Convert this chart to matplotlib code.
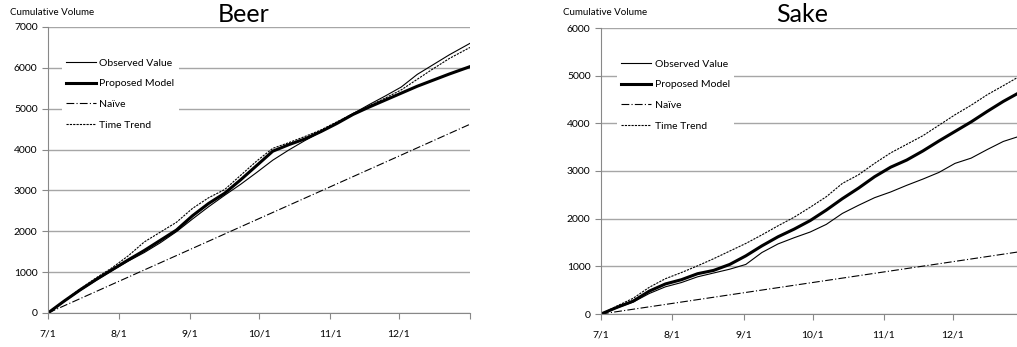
import numpy as np
import matplotlib
matplotlib.use('Agg')
import matplotlib.pyplot as plt

plt.rcParams['font.family'] = ['Lato', 'DejaVu Sans']

# Días desde el 1 de julio (muestras semanales)
dias = [0, 7, 14, 21, 28, 35, 42, 49, 56, 63, 70, 77, 84, 91, 98, 105, 112,
        119, 126, 133, 140, 147, 154, 161, 168, 175, 184]
dias_mes = [0, 31, 62, 92, 123, 153, 184]
etiquetas_mes = ['7/1', '8/1', '9/1', '10/1', '11/1', '12/1', '']

# Beer
beer_observado = [0, 280, 550, 800, 1040, 1270, 1480, 1720, 1990, 2300, 2600, 2880, 3150,
                  3440, 3740, 3990, 4220, 4430, 4660, 4880, 5100, 5310, 5530, 5840, 6080,
                  6320, 6600]
beer_modelo = [0, 290, 565, 820, 1060, 1300, 1530, 1780, 2030, 2380, 2680, 2930, 3260,
               3610, 3960, 4120, 4260, 4440, 4640, 4860, 5040, 5210, 5380, 5550, 5700,
               5850, 6030]
beer_tendencia = [0, 300, 590, 860, 1110, 1400, 1740, 1980, 2220, 2560, 2820, 3020, 3370,
                  3720, 4030, 4170, 4320, 4480, 4680, 4880, 5070, 5260, 5460, 5720, 5980,
                  6230, 6500]
beer_naive = [0, 778, 1556, 2310, 3087, 3840, 4620]

# Sake
sake_observado = [0, 130, 250, 430, 570, 660, 780, 860, 940, 1040, 1290, 1470, 1600,
                  1720, 1880, 2110, 2280, 2440, 2560, 2700, 2830, 2970, 3160, 3270, 3450,
                  3620, 3760]
sake_modelo = [0, 140, 270, 480, 630, 720, 845, 915, 1040, 1220, 1430, 1620, 1780,
               1960, 2180, 2420, 2640, 2880, 3080, 3230, 3420, 3630, 3830, 4030, 4250,
               4460, 4700]
sake_tendencia = [0, 170, 330, 560, 740, 870, 1010, 1160, 1320, 1480, 1660, 1850, 2030,
                  2240, 2460, 2740, 2920, 3160, 3380, 3560, 3740, 3960, 4180, 4380, 4600,
                  4790, 5040]
sake_naive = [0, 222, 445, 660, 882, 1097, 1320]

W, H = 1017, 347
fig = plt.figure(figsize=(W / 100, H / 100), dpi=100)

def panel(rect, titulo, tx, obs, mod, nai, ten, ymax, leg_x):
    ax = fig.add_axes(rect)
    ax.plot(dias, obs, color='black', lw=0.8, label='Observed Value')
    ax.plot(dias, mod, color='black', lw=2.2, label='Proposed Model')
    ax.plot(dias_mes, nai, color='black', lw=0.8, dashes=(7, 2, 1, 2), label='Naïve')
    ax.plot(dias, ten, color='black', lw=0.8, dashes=(2, 1), label='Time Trend')
    ax.set_xlim(0, 184)
    ax.set_ylim(0, ymax)
    ax.set_yticks(np.arange(0, ymax + 1, 1000))
    ax.set_xticks(dias_mes)
    ax.set_xticklabels(etiquetas_mes)
    ax.grid(axis='y', color='#a6a6a6', lw=1)
    ax.set_axisbelow(True)
    for s in ['top', 'right']:
        ax.spines[s].set_visible(False)
    for s in ['left', 'bottom']:
        ax.spines[s].set_color('#888888')
    ax.tick_params(axis='both', colors='#888888', labelcolor='black', labelsize=7.5,
                   length=4, width=0.8, direction='out')
    ax.tick_params(axis='x', pad=8)
    leg = ax.legend(loc='upper left', bbox_to_anchor=(leg_x, 0.905), fontsize=7.5,
                    handlelength=2.9, handletextpad=0.3, labelspacing=1.1,
                    frameon=True, borderaxespad=0)
    leg.get_frame().set_facecolor('white')
    leg.get_frame().set_edgecolor('none')
    leg.get_frame().set_alpha(1)
    fig.text(tx, 1 - 22 / H, titulo, fontsize=18, ha='center', va='baseline')
    fig.text(rect[0] - 38 / W, 1 - 15 / H, 'Cumulative Volume', fontsize=7,
             ha='left', va='baseline')
    return ax

panel([48 / W, 34 / H, 422 / W, 286 / H], 'Beer', 244 / W,
      beer_observado, beer_modelo, beer_naive, beer_tendencia, 7000, 0.033)
panel([601 / W, 33 / H, 423 / W, 286 / H], 'Sake', 802 / W,
      sake_observado, sake_modelo, sake_naive, sake_tendencia, 6000, 0.038)

fig.savefig('out.png', dpi=100)
